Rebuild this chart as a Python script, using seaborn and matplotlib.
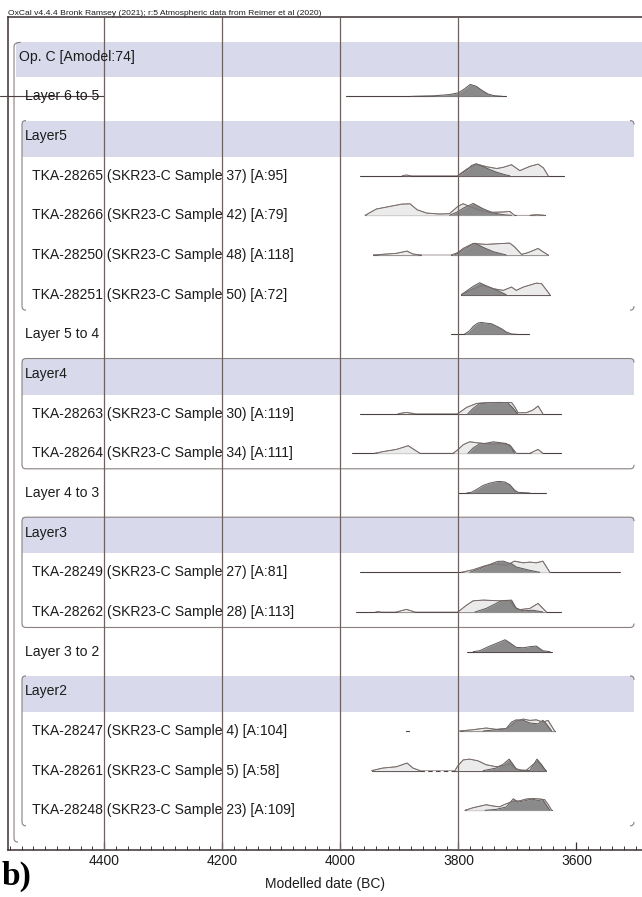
import matplotlib
matplotlib.use("Agg")
import matplotlib.pyplot as plt
import matplotlib.transforms as mtransforms
from matplotlib.path import Path
from matplotlib.patches import PathPatch, Rectangle
from matplotlib.ticker import MultipleLocator
import numpy as np
import pandas as pd
import seaborn as sns

sns.set_theme(style="white")
plt.rcParams["font.family"] = ["Liberation Sans", "DejaVu Sans"]

# ---------------------------------------------------------------- texts
header = "OxCal v4.4.4 Bronk Ramsey (2021); r:5 Atmospheric data from Reimer et al (2020)"
x_label = "Modelled date (BC)"
panel_tag = "b)"
tick_years = [4400, 4200, 4000, 3800, 3600]
grid_years = [4400, 4200, 4000, 3800]

# ---------------------------------------------------------------- rows (top to bottom)
row_labels = [
    "Op. C [Amodel:74]",
    "Layer 6 to 5",
    "Layer5",
    "TKA-28265 (SKR23-C Sample 37) [A:95]",
    "TKA-28266 (SKR23-C Sample 42) [A:79]",
    "TKA-28250 (SKR23-C Sample 48) [A:118]",
    "TKA-28251 (SKR23-C Sample 50) [A:72]",
    "Layer 5 to 4",
    "Layer4",
    "TKA-28263 (SKR23-C Sample 30) [A:119]",
    "TKA-28264 (SKR23-C Sample 34) [A:111]",
    "Layer 4 to 3",
    "Layer3",
    "TKA-28249 (SKR23-C Sample 27) [A:81]",
    "TKA-28262 (SKR23-C Sample 28) [A:113]",
    "Layer 3 to 2",
    "Layer2",
    "TKA-28247 (SKR23-C Sample 4) [A:104]",
    "TKA-28261 (SKR23-C Sample 5) [A:58]",
    "TKA-28248 (SKR23-C Sample 23) [A:109]",
]
row_kinds = ["model", "boundary", "phase", "date", "date", "date", "date",
             "boundary", "phase", "date", "date",
             "boundary", "phase", "date", "date",
             "boundary", "phase", "date", "date", "date"]
# phases drawn with a closed frame; the others only get side brackets
closed_phases = ["Layer4", "Layer3"]

# ---------------------------------------------------------------- densities
# years BC; heights relative to the peak of each curve
# like = unmodelled likelihood, post = modelled posterior, span = range line
layer_6_to_5 = dict(
    span=[(3990, 3720)],
    post=([3880, 3840, 3815, 3800, 3790, 3780, 3770, 3760, 3750, 3740, 3725],
          [0, .05, .15, .30, .62, 1.0, .85, .50, .20, .06, 0]),
)
tka_28265 = dict(
    span=[(3967, 3621)],
    like=([3895, 3888, 3881, 3801, 3786, 3769, 3752, 3735, 3724, 3710, 3696, 3679, 3665, 3656, 3648],
          [0, .05, 0, 0, .55, .97, .75, .60, .70, .92, .42, .78, .97, .65, 0]),
    post=([3801, 3786, 3778, 3770, 3753, 3736, 3719, 3713],
          [0, .45, .85, 1.0, .65, .30, .05, 0]),
)
tka_28266 = dict(
    span=[(3958, 3702), (3679, 3654)],
    like=([3958, 3939, 3916, 3896, 3882, 3870, 3854, 3832, 3815, 3801, 3792, 3781, 3764, 3747,
           3724, 3713, 3705, 3679, 3667, 3654],
          [0, .53, .75, .94, .97, .47, .19, .11, .14, .75, .97, .75, .42, .25,
           .28, .33, 0, 0, .05, 0]),
    post=([3815, 3801, 3792, 3775, 3758, 3741, 3724, 3710],
          [0, .30, .60, 1.0, .55, .20, .05, 0]),
)
tka_28250 = dict(
    span=[(3944, 3863), (3812, 3648)],
    like=([3944, 3922, 3905, 3887, 3877, 3863, 3812, 3801, 3792, 3775, 3753, 3736, 3713, 3705,
           3693, 3682, 3665, 3657, 3648],
          [0, .08, .14, .33, .08, 0, 0, .20, .55, .97, .89, .94, 1.0, .69,
           .05, .20, .55, .28, 0]),
    post=([3806, 3792, 3772, 3758, 3741, 3719],
          [0, .42, 1.0, .64, .28, 0]),
)
tka_28251 = dict(
    span=[(3795, 3645)],
    like=([3795, 3775, 3758, 3741, 3724, 3710, 3702, 3690, 3668, 3659, 3645],
          [0, .50, .78, .50, .36, .64, .36, .64, .97, .92, 0]),
    post=([3795, 3775, 3764, 3753, 3736, 3719],
          [0, .70, 1.0, .75, .40, 0]),
)
layer_5_to_4 = dict(
    span=[(3812, 3680)],
    post=([3790, 3781, 3775, 3767, 3761, 3753, 3744, 3736, 3727, 3719, 3710, 3700],
          [0, .30, .67, .95, 1.0, .94, .89, .70, .47, .20, .03, 0]),
)
tka_28263 = dict(
    span=[(3967, 3626)],
    like=([3902, 3888, 3874, 3801, 3786, 3769, 3747, 3710, 3705, 3699, 3685, 3674, 3665, 3657],
          [0, .10, 0, 0, .53, .86, .94, .94, .60, .08, .08, .30, .64, 0]),
    post=([3784, 3775, 3764, 3747, 3730, 3716, 3708, 3700],
          [0, .45, .85, .92, .95, .90, .50, 0]),
)
tka_28264 = dict(
    span=[(3981, 3626)],
    like=([3942, 3928, 3905, 3885, 3874, 3865, 3809, 3801, 3792, 3781, 3769, 3747, 3724, 3713,
           3702, 3679, 3665, 3657],
          [0, .14, .33, .64, .28, 0, 0, .30, .72, .97, .89, .78, .80, .70,
           0, 0, .33, 0]),
    post=([3784, 3775, 3764, 3753, 3741, 3730, 3719, 3710, 3705],
          [0, .45, .80, .85, .97, .90, .83, .50, 0]),
)
layer_4_to_3 = dict(
    span=[(3801, 3651)],
    post=([3786, 3778, 3769, 3758, 3747, 3736, 3730, 3721, 3713, 3705, 3699, 3685, 3679],
          [0, .06, .30, .64, .83, .95, .97, .92, .70, .25, .06, .02, 0]),
)
tka_28249 = dict(
    span=[(3967, 3526)],
    like=([3795, 3775, 3753, 3736, 3719, 3705, 3690, 3679, 3668, 3657, 3645],
          [0, .22, .58, .72, .58, .94, .80, .86, .80, .94, 0]),
    post=([3781, 3764, 3741, 3733, 3724, 3716, 3710, 3702, 3690, 3679, 3662],
          [0, .30, .78, .92, .94, .80, .72, .45, .30, .17, 0]),
)
tka_28262 = dict(
    span=[(3973, 3626)],
    like=([3940, 3936, 3932, 3905, 3888, 3874, 3801, 3786, 3775, 3758, 3730, 3713, 3705, 3696,
           3679, 3665, 3651],
          [0, .03, 0, 0, .22, 0, 0, .58, .94, 1.0, .94, .94, .40, .20,
           .30, .72, 0]),
    post=([3772, 3753, 3736, 3727, 3710, 3702, 3690, 3674, 3657],
          [0, .30, .72, .95, 1.0, .30, .10, .15, 0]),
)
layer_3_to_2 = dict(
    span=[(3786, 3641)],
    post=([3775, 3764, 3747, 3733, 3721, 3713, 3702, 3690, 3679, 3668, 3657, 3645],
          [0, .08, .47, .75, 1.0, .75, .36, .33, .42, .47, .08, 0]),
)
tka_28247 = dict(
    span=[(3798, 3637), (3889, 3884)],
    like=([3798, 3775, 3753, 3736, 3719, 3710, 3702, 3690, 3679, 3668, 3657, 3648, 3637],
          [0, .11, .25, .14, .20, .50, .83, 1.0, .89, .94, .75, .89, 0]),
    post=([3758, 3736, 3719, 3710, 3702, 3690, 3679, 3665, 3657, 3651, 3642],
          [0, .10, .20, .75, .94, .90, .67, .60, .90, .60, 0]),
)
tka_28261 = dict(
    span=[(3947, 3865), (3806, 3651)],
    dashed=[(3865, 3806)],
    like=([3947, 3928, 3905, 3887, 3877, 3865, 3806, 3801, 3792, 3781, 3767, 3753, 3736, 3724,
           3713, 3705, 3696, 3685, 3674, 3665, 3657, 3651],
          [0, .22, .33, .64, .22, 0, 0, .40, .90, .97, .83, .50, .33, .42,
           .60, .20, .05, .03, .50, .80, .20, 0]),
    post=([3758, 3736, 3724, 3714, 3707, 3702, 3693, 3679, 3672, 3667, 3659, 3652],
          [0, .22, .55, .97, .50, .15, .02, .02, .55, .97, .50, 0]),
)
tka_28248 = dict(
    span=[(3789, 3642)],
    like=([3789, 3775, 3753, 3741, 3730, 3719, 3707, 3696, 3685, 3674, 3662, 3654, 3648, 3642],
          [0, .22, .47, .36, .30, .55, .75, .80, .95, 1.0, .95, .90, .50, 0]),
    post=([3755, 3736, 3719, 3707, 3699, 3688, 3676, 3665, 3657, 3645],
          [0, .08, .28, .97, .70, .80, .95, .83, .89, 0]),
)

profiles = {
    "Layer 6 to 5": layer_6_to_5, "TKA-28265": tka_28265, "TKA-28266": tka_28266,
    "TKA-28250": tka_28250, "TKA-28251": tka_28251, "Layer 5 to 4": layer_5_to_4,
    "TKA-28263": tka_28263, "TKA-28264": tka_28264, "Layer 4 to 3": layer_4_to_3,
    "TKA-28249": tka_28249, "TKA-28262": tka_28262, "Layer 3 to 2": layer_3_to_2,
    "TKA-28247": tka_28247, "TKA-28261": tka_28261, "TKA-28248": tka_28248,
}

# ---------------------------------------------------------------- style
W, H = 642, 897
band_col = "#d8daec"
grid_col = "#6e6260"
spine_col = "#3c3232"
frame_col = "#8a8080"
like_fill, like_edge = "#ebebeb", "#7a6f6d"
post_fill, post_edge = "#8a8a8a", "#5e5656"
base_col = "#4c4141"
text_col = "#1c1c1c"
peak = 0.30  # curve height in row units

fig = plt.figure(figsize=(W / 100, H / 100), dpi=100)
ax = fig.add_axes([8 / W, 47 / H, 634 / W, 833 / H])
blend = mtransforms.blended_transform_factory(ax.transAxes, ax.transData)


def key_of(label):
    return label.split(" (")[0]


# header bands of the model and of each phase
for r, (lab, kind) in enumerate(zip(row_labels, row_kinds)):
    if kind == "model":
        ax.add_patch(Rectangle((0.0126, r - 0.36), 1.0 - 0.0126, 0.88, transform=blend,
                               facecolor=band_col, edgecolor="none", zorder=0))
    elif kind == "phase":
        ax.add_patch(Rectangle((0.0221, r - 0.39), 0.9874 - 0.0221, 0.91, transform=blend,
                               facecolor=band_col, edgecolor="none", zorder=0))


def frame_path(x0, x1, top, bottom, closed):
    rx, ry = 0.0063, 0.10
    M, L, C = Path.MOVETO, Path.LINETO, Path.CURVE3
    verts = [(x0 + rx, top), (x0, top), (x0, top + ry), (x0, bottom - ry), (x0, bottom), (x0 + rx, bottom)]
    codes = [M, C, C, L, C, C]
    # right hand corners only
    verts += [(x1 - rx, top), (x1, top), (x1, top + ry)]
    codes += [M, C, C]
    verts += [(x1, bottom - ry), (x1, bottom), (x1 - rx, bottom)]
    codes += [M, C, C]
    if closed:
        verts += [(x0 + rx, top), (x1 - rx, top), (x0 + rx, bottom), (x1 - rx, bottom)]
        codes += [M, L, M, L]
    return Path(verts, codes)


# phase frames: from the header row to the last date before the next boundary
for r, (lab, kind) in enumerate(zip(row_labels, row_kinds)):
    if kind != "phase":
        continue
    last = r
    while last + 1 < len(row_kinds) and row_kinds[last + 1] == "date":
        last += 1
    p = frame_path(0.0221, 0.9874, r - 0.39, last + 0.39, lab in closed_phases)
    ax.add_patch(PathPatch(p, transform=blend, facecolor="none", edgecolor=frame_col,
                           lw=0.8, zorder=1))

# model frame (left side only, the right side runs off the page)
rx, ry = 0.0063, 0.10
x0, top, bottom = 0.0095, -0.36, 19.8
mp = Path([(0.02, top), (x0, top), (x0, top + ry), (x0, bottom - ry), (x0, bottom), (x0 + rx, bottom)],
          [Path.MOVETO, Path.CURVE3, Path.CURVE3, Path.LINETO, Path.CURVE3, Path.CURVE3])
ax.add_patch(PathPatch(mp, transform=blend, facecolor="none", edgecolor=frame_col, lw=0.8, zorder=1))


def draw_density(row, curve, fill, edge, z):
    yrs = np.asarray(curve[0], float)
    h = np.asarray(curve[1], float)
    ax.fill_between(yrs, row, row - h * peak, color=fill, lw=0, zorder=z)
    xs, ys = [], []
    for i in range(len(yrs)):
        if i > 0 and h[i] == 0 and h[i - 1] == 0:
            xs.append(np.nan)
            ys.append(np.nan)
        xs.append(yrs[i])
        ys.append(row - h[i] * peak)
    ax.plot(xs, ys, color=edge, lw=0.7, zorder=z + 0.5)


# range lines under each distribution (long-form table for seaborn)
seg_records = []
for r, lab in enumerate(row_labels):
    prof = profiles.get(key_of(lab))
    if prof is None:
        continue
    for k, (a, b) in enumerate(prof["span"]):
        seg_records.append(dict(year=a, row=r, seg=f"{r}-{k}"))
        seg_records.append(dict(year=b, row=r, seg=f"{r}-{k}"))
spans = pd.DataFrame(seg_records)
sns.lineplot(data=spans, x="year", y="row", units="seg", estimator=None, sort=False,
             color=base_col, lw=0.8, legend=False, ax=ax, zorder=2)

for r, lab in enumerate(row_labels):
    prof = profiles.get(key_of(lab))
    if prof is None:
        continue
    for a, b in prof.get("dashed", []):
        ax.plot([a, b], [r, r], color=base_col, lw=0.8, ls=(0, (4, 3)), zorder=2)
    if "like" in prof:
        draw_density(r, prof["like"], like_fill, like_edge, 3)
    draw_density(r, prof["post"], post_fill, post_edge, 4)
    if "like" in prof:
        lx, lh = np.asarray(prof["like"][0], float), np.asarray(prof["like"][1], float)
        ax.plot(lx, r - lh * peak, color=like_edge, lw=0.6, zorder=5, alpha=0.8)

# stroke across the first boundary row, running to the first grid line
ax.plot([4577, 4400], [1, 1], color=base_col, lw=0.8, clip_on=False, zorder=6)

# row labels
for r, (lab, kind) in enumerate(zip(row_labels, row_kinds)):
    xpos = {"model": 0.0174, "phase": 0.0268, "boundary": 0.0276, "date": 0.0386}[kind]
    ax.text(xpos, r, lab, transform=blend, ha="left", va="center", fontsize=10.1,
            color=text_col, zorder=7)

# vertical grid lines
for g in grid_years:
    ax.axvline(g, color=grid_col, lw=0.9, zorder=6)

# axes
ax.set_xlim(4563, 3489)
ax.set_ylim(20.0, -1.0)
ax.set_yticks([])
ax.set_ylabel("")
ax.xaxis.set_major_locator(MultipleLocator(200))
ax.xaxis.set_minor_locator(MultipleLocator(20))
ax.set_xticks(tick_years)
ax.set_xticklabels([str(t) for t in tick_years])
ax.tick_params(axis="x", which="major", direction="in", length=6, width=0.9,
               color=spine_col, labelsize=10, labelcolor=text_col, pad=3, bottom=True)
ax.tick_params(axis="x", which="minor", direction="in", length=3, width=0.7,
               color=spine_col, bottom=True)
ax.set_xlabel(x_label, fontsize=10, color=text_col, labelpad=6.5)
for side in ["top", "left", "bottom"]:
    ax.spines[side].set_visible(True)
    ax.spines[side].set_color(spine_col)
    ax.spines[side].set_linewidth(1.1)
ax.spines["right"].set_visible(False)
ax.set_facecolor("white")

ax.annotate(header, xy=(0.0, 1.0), xycoords="axes fraction", xytext=(0, 1.2),
            textcoords="offset points", ha="left", va="baseline",
            fontsize=6.1, color=text_col)

fig.text(2 / W, 12 / H, panel_tag, fontfamily=["Liberation Serif", "DejaVu Serif"],
         fontweight="bold", fontsize=24, color="black", ha="left", va="baseline")

fig.savefig("out.png", dpi=100, facecolor="white")
